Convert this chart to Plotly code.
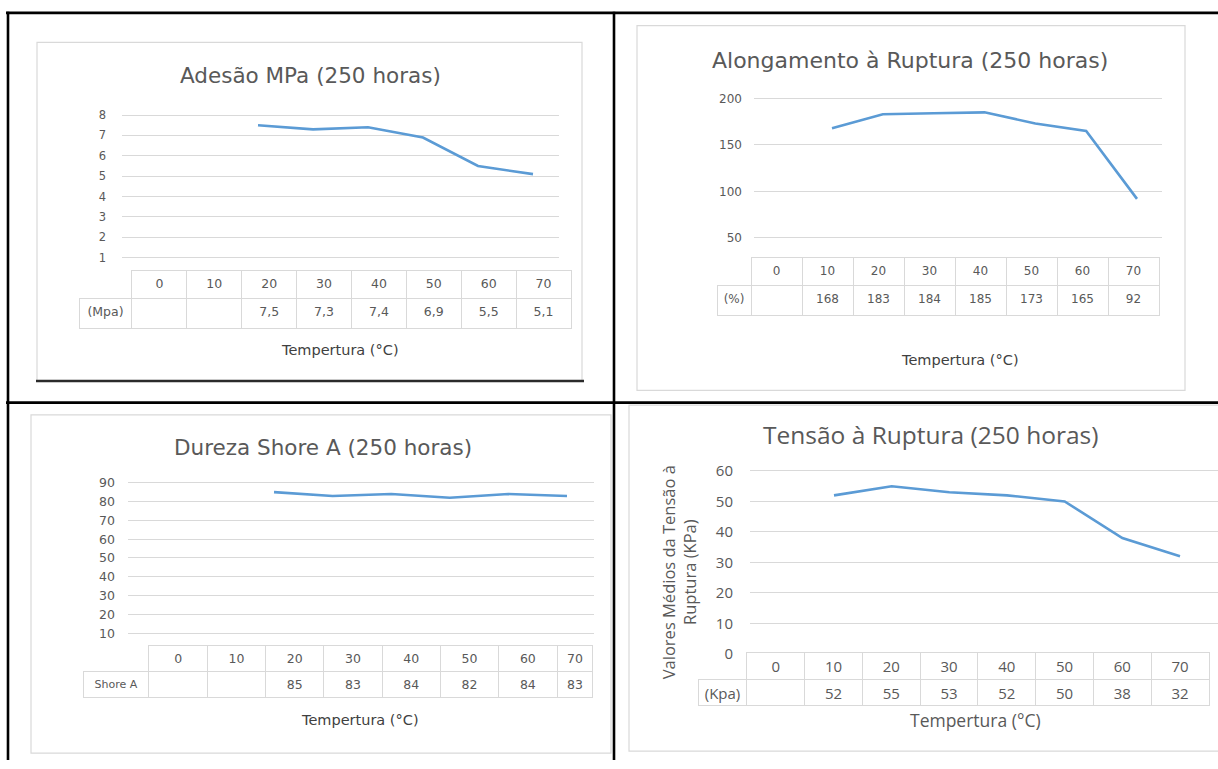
import plotly.graph_objects as go

# ---------------- data ----------------
temp_labels = ["0", "10", "20", "30", "40", "50", "60", "70"]

adesao_t = [20, 30, 40, 50, 60, 70]
adesao_v = [7.5, 7.3, 7.4, 6.9, 5.5, 5.1]

along_t = [10, 20, 30, 40, 50, 60, 70]
along_v = [168, 183, 184, 185, 173, 165, 92]

dureza_t = [20, 30, 40, 50, 60, 70]
dureza_v = [85, 83, 84, 82, 84, 83]

tensao_t = [10, 20, 30, 40, 50, 60, 70]
tensao_v = [52, 55, 53, 52, 50, 38, 32]

titles = ["Adesão MPa (250 horas)", "Alongamento à Ruptura (250 horas)",
          "Dureza Shore A (250 horas)", "Tensão à Ruptura (250 horas)"]
row_labels = ["(Mpa)", "(%)", "Shore\u00a0A", "(Kpa)"]
x_title = "Tempertura (°C)"
y_title4 = "Valores Médios da Tensão à<br>Ruptura (KPa)"

# --------------- helpers ---------------
W, H = 1218, 769
F_OLD = "DejaVu Sans"
F_NEW = "Open Sans"
GRID = "#D9D9D9"
TXT = "#595959"
LINE = "#5B9BD5"


def fx(p):
    return p / W


def fy(p):
    return 1 - p / H


def lin(p, v1, p1, v2, p2):
    return v1 + (p - p1) * (v2 - v1) / (p2 - p1)


def row_text(ts, vs, fmt):
    d = {str(t): fmt(v) for t, v in zip(ts, vs)}
    return [d.get(lbl, "") for lbl in temp_labels]


fmt_dec = lambda v: f"{v:.1f}".replace(".", ",")
fmt_int = lambda v: str(int(v))

panels = [
    dict(t=adesao_t, v=adesao_v, fmt=fmt_dec, dtick=1, font=F_OLD, tfs=11.5, tstand=15,
         gx=(122, 559), gy=(105, 271), xr=((20, 258), (70, 533)), yr=((8, 113), (1, 258)),
         tbl_x=79, lab_w=53, col_w=[54.9] * 8, tbl_y=271, hh=28, ch=30, tbl_fs=12.5,
         title_xy=(310, 73), title_fs=21.5, xt_xy=(340, 352), xt_fs=14.5, xt_col="#404040"),
    dict(t=along_t, v=along_v, fmt=fmt_int, dtick=50, font=F_OLD, tfs=12, tstand=11,
         gx=(754, 1162), gy=(90, 258), xr=((10, 832), (70, 1137)), yr=((200, 96), (50, 238)),
         tbl_x=717, lab_w=34, col_w=[51] * 8, tbl_y=258, hh=28, ch=30, tbl_fs=12,
         title_xy=(910, 57), title_fs=22, xt_xy=(960, 362), xt_fs=14.5, xt_col="#404040"),
    dict(t=dureza_t, v=dureza_v, fmt=fmt_int, dtick=10, font=F_OLD, tfs=12.5, tstand=12,
         gx=(128, 594), gy=(480, 653), xr=((20, 274), (70, 567)), yr=((90, 487), (10, 640)),
         tbl_x=83, lab_w=66, col_w=[58.3] * 7 + [36], tbl_y=653, hh=26, ch=26, tbl_fs=12.5,
         title_xy=(323, 451), title_fs=21.5, xt_xy=(360, 728), xt_fs=14.5, xt_col="#404040"),
    dict(t=tensao_t, v=tensao_v, fmt=fmt_int, dtick=10, font=F_NEW, tfs=15, tstand=16,
         gx=(750, 1218), gy=(468, 661), xr=((10, 834), (70, 1180)), yr=((60, 475), (0, 661)),
         tbl_x=698, lab_w=49, col_w=[57.8] * 8, tbl_y=660, hh=27, ch=26, tbl_fs=15,
         title_xy=(930, 438), title_fs=24.5, xt_xy=(975, 728), xt_fs=17.5, xt_col=TXT),
]

fig = go.Figure()
layout_axes = {}
annotations = []

for i, p in enumerate(panels):
    n = "" if i == 0 else str(i + 1)
    xa, ya = "x" + n, "y" + n
    (t1, px1), (t2, px2) = p["xr"]
    (v1, py1), (v2, py2) = p["yr"]
    xrng = [lin(p["gx"][0], t1, px1, t2, px2), lin(p["gx"][1], t1, px1, t2, px2)]
    yrng = [lin(p["gy"][1], v1, py1, v2, py2), lin(p["gy"][0], v1, py1, v2, py2)]
    if i == 3:
        yrng[0] = 0

    fig.add_trace(go.Scatter(x=p["t"], y=p["v"], mode="lines", xaxis=xa, yaxis=ya,
                             line=dict(color=LINE, width=2.6), hoverinfo="skip",
                             showlegend=False, cliponaxis=False))

    layout_axes["xaxis" + n] = dict(domain=[fx(p["gx"][0]), fx(p["gx"][1])], range=xrng,
                                    anchor=ya, showgrid=False, zeroline=False,
                                    showticklabels=False, showline=False, fixedrange=True)
    layout_axes["yaxis" + n] = dict(domain=[fy(p["gy"][1]), fy(p["gy"][0])], range=yrng,
                                    anchor=xa, showgrid=True, gridcolor=GRID, gridwidth=1,
                                    zeroline=False, showline=False, dtick=p["dtick"],
                                    tick0=0, ticks="", ticklabelstandoff=p["tstand"],
                                    tickfont=dict(family=p["font"], size=p["tfs"], color=TXT),
                                    fixedrange=True)

    # data table
    ncols = 1 + len(p["col_w"])
    tw = p["lab_w"] + sum(p["col_w"])
    th = p["hh"] + p["ch"]
    hdr_vals = [""] + temp_labels[:ncols - 1]
    data_vals = row_text(p["t"], p["v"], p["fmt"])[:ncols - 1]
    lab_fs = p["tbl_fs"] - (1.5 if i == 2 else 0)
    fig.add_trace(go.Table(
        domain=dict(x=[fx(p["tbl_x"]), fx(p["tbl_x"] + tw)],
                    y=[fy(p["tbl_y"] + th + 3), fy(p["tbl_y"])]),
        columnwidth=[p["lab_w"]] + p["col_w"],
        header=dict(values=hdr_vals, height=p["hh"],
                    fill=dict(color=["rgba(0,0,0,0)"] + ["white"] * (ncols - 1)),
                    line=dict(color=["rgba(0,0,0,0)"] + [GRID] * (ncols - 1),
                              width=[0] + [1] * (ncols - 1)),
                    font=dict(family=p["font"], size=p["tbl_fs"], color=TXT), align="center"),
        cells=dict(values=[[row_labels[i]]] + [[v] for v in data_vals], height=p["ch"],
                   fill=dict(color="white"), line=dict(color=GRID, width=1),
                   font=dict(family=p["font"], size=[lab_fs] + [p["tbl_fs"]] * (ncols - 1),
                             color=TXT),
                   align="center"),
    ))

    annotations.append(dict(text=titles[i], x=fx(p["title_xy"][0]), y=fy(p["title_xy"][1]),
                            xref="paper", yref="paper", showarrow=False, xanchor="center",
                            yanchor="middle",
                            font=dict(family=p["font"], size=p["title_fs"], color=TXT)))
    annotations.append(dict(text=x_title, x=fx(p["xt_xy"][0]), y=fy(p["xt_xy"][1]),
                            xref="paper", yref="paper", showarrow=False, xanchor="center",
                            yanchor="middle",
                            font=dict(family=p["font"], size=p["xt_fs"], color=p["xt_col"])))

annotations.append(dict(text=y_title4, x=fx(679), y=fy(578), xref="paper", yref="paper",
                        showarrow=False, textangle=-90, xanchor="center", yanchor="middle",
                        font=dict(family=F_NEW, size=16.5, color=TXT)))

shapes = []
# inner chart frames (light grey)
for (x0, y0, x1, y1) in [(37, 39, 582, 383), (637, 22, 1185, 393),
                         (31, 418, 611, 762), (629, 408, 1230, 760)]:
    shapes.append(dict(type="rect", xref="paper", yref="paper", x0=fx(x0), x1=fx(x1),
                       y0=fy(y1), y1=fy(y0), line=dict(color="#D9D9D9", width=1.2),
                       fillcolor="rgba(0,0,0,0)", layer="below"))
# dark bottom rule under first chart
shapes.append(dict(type="line", xref="paper", yref="paper", x0=fx(36), x1=fx(584),
                   y0=fy(383.5), y1=fy(383.5), line=dict(color="#2b2b2b", width=2.5)))
# outer black document-table lines
for (x0, y0, x1, y1) in [(6, 9, 1218, 9), (8, 8, 8, 769), (614, 8, 614, 769),
                         (6, 405.5, 1218, 405.5)]:
    shapes.append(dict(type="line", xref="paper", yref="paper", x0=fx(x0), x1=fx(x1),
                       y0=fy(y0), y1=fy(y1), line=dict(color="black", width=2.6)))

fig.update_layout(width=W, height=H, margin=dict(l=0, r=0, t=0, b=0, pad=0),
                  paper_bgcolor="white", plot_bgcolor="rgba(0,0,0,0)", showlegend=False,
                  annotations=annotations, shapes=shapes, **layout_axes)

fig.write_html("out.html", config={"displayModeBar": False},
               post_script="document.body.style.margin='0';document.body.style.overflow='hidden';")
